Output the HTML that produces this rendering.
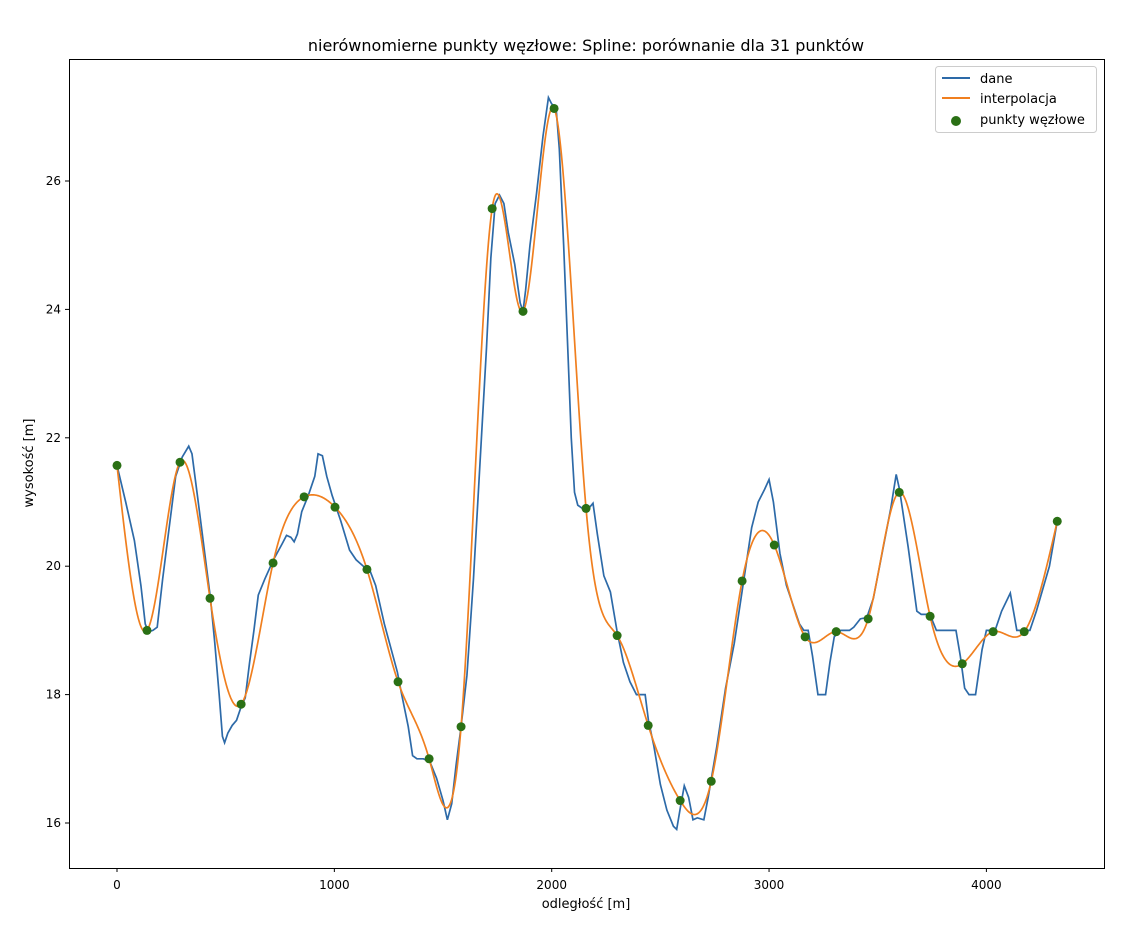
<!DOCTYPE html>
<html><head><meta charset="utf-8"><style>
body{margin:0;background:#fff;}
svg text{font-family:"DejaVu Sans","Liberation Sans",sans-serif;}
</style></head><body>
<svg id="chart" width="1139" height="941" xmlns="http://www.w3.org/2000/svg">
<rect width="1139" height="941" fill="#fff"/>
<text x="586" y="51" font-size="16" text-anchor="middle">nierównomierne punkty węzłowe: Spline: porównanie dla 31 punktów</text>
<g id="plot"></g>
<rect x="69.5" y="59.5" width="1035" height="809" fill="none" stroke="#000" stroke-width="1"/>
<text x="586" y="908" font-size="13" text-anchor="middle">odległość [m]</text>
<text transform="translate(33,463) rotate(-90)" font-size="13" text-anchor="middle">wysokość [m]</text>
<g>
<rect x="935.5" y="66.5" width="161" height="66" rx="3" fill="#fff" fill-opacity="0.8" stroke="#ccc"/>
<line x1="942" y1="78" x2="970" y2="78" stroke="#2d6aa8" stroke-width="2"/>
<text x="980" y="83" font-size="13">dane</text>
<line x1="942" y1="98" x2="970" y2="98" stroke="#f07f1f" stroke-width="2"/>
<text x="980" y="103" font-size="13">interpolacja</text>
<circle cx="956" cy="121" r="5" fill="#2a7015"/>
<text x="980" y="124" font-size="13">punkty węzłowe</text>
</g>
</svg>
<script>
const nodeX=[0,138,290,428,571,718,861,1003,1150,1293,1436,1583,1726,1868,2011,2158,2301,2444,2591,2734,2876,3024,3166,3309,3456,3599,3741,3889,4031,4174,4326];
const nodeY=[21.57,19.0,21.62,19.5,17.85,20.05,21.08,20.92,19.95,18.2,17.0,17.5,25.57,23.97,27.13,20.9,18.92,17.52,16.35,16.65,19.77,20.33,18.9,18.98,19.18,21.15,19.22,18.48,18.98,18.98,20.7];
const dataX=[0,40,80,110,130,145,165,185,210,240,270,300,330,345,370,400,430,450,470,485,495,510,530,550,570,590,610,630,650,680,720,760,780,800,815,830,850,880,910,925,945,965,990,1030,1070,1100,1140,1165,1190,1230,1270,1290,1310,1340,1360,1380,1410,1440,1470,1500,1520,1540,1560,1583,1610,1640,1670,1700,1720,1740,1760,1780,1800,1830,1855,1868,1880,1900,1930,1960,1985,2000,2020,2035,2055,2075,2090,2105,2120,2150,2170,2190,2210,2240,2270,2300,2330,2360,2390,2430,2445,2470,2500,2530,2560,2575,2595,2610,2630,2650,2670,2700,2720,2760,2800,2840,2880,2920,2950,2980,3000,3020,3050,3080,3110,3140,3160,3180,3200,3225,3260,3280,3300,3330,3370,3390,3420,3450,3480,3520,3560,3585,3600,3640,3680,3700,3740,3770,3810,3860,3880,3900,3920,3950,3980,4000,4040,4070,4110,4140,4170,4200,4230,4290,4326];
const dataY=[21.57,21.0,20.4,19.7,19.1,18.98,19.0,19.05,19.8,20.6,21.4,21.7,21.87,21.75,21.1,20.3,19.5,18.8,18.0,17.35,17.25,17.4,17.52,17.6,17.8,17.95,18.5,19.0,19.55,19.8,20.1,20.35,20.48,20.45,20.38,20.5,20.85,21.1,21.4,21.75,21.72,21.4,21.1,20.7,20.25,20.1,19.98,19.92,19.7,19.1,18.6,18.35,18.0,17.5,17.05,17.0,17.0,16.95,16.7,16.35,16.05,16.3,16.9,17.5,18.3,19.8,21.6,23.4,24.8,25.65,25.78,25.65,25.2,24.7,24.1,23.97,24.3,25.0,25.8,26.7,27.3,27.2,27.15,26.5,25.0,23.3,22.0,21.15,20.95,20.88,20.9,20.98,20.5,19.85,19.6,19.0,18.5,18.2,18.0,18.0,17.6,17.2,16.6,16.2,15.95,15.9,16.3,16.58,16.4,16.05,16.08,16.05,16.4,17.2,18.1,18.8,19.7,20.6,21.0,21.2,21.35,21.0,20.2,19.7,19.4,19.1,19.0,19.0,18.6,18.0,18.0,18.5,18.9,19.0,19.0,19.05,19.18,19.2,19.5,20.2,20.9,21.43,21.2,20.3,19.3,19.25,19.25,19.0,19.0,19.0,18.6,18.1,18.0,18.0,18.7,19.0,19.0,19.3,19.58,19.0,19.0,19.0,19.3,20.0,20.7];
const xTicks=[0,1000,2000,3000,4000];
const yTicks=[16,18,20,22,24,26];
const NS="http://www.w3.org/2000/svg";
const sx=v=>117+v*0.21735;
const sy=v=>823-(v-16)*64.2;
const g=document.getElementById('plot');
function mk(t,a){const e=document.createElementNS(NS,t);for(const k in a)e.setAttribute(k,a[k]);g.appendChild(e);return e;}
xTicks.forEach(t=>{
 const l=mk('line',{x1:sx(t),x2:sx(t),y1:868,y2:872,stroke:'#000'});
 
 
 const tx=mk('text',{x:sx(t),y:889,'font-size':12,'text-anchor':'middle'});tx.textContent=t;
 
 
});
yTicks.forEach(t=>{
 const l=mk('line',{x1:65,x2:69,y1:sy(t),y2:sy(t),stroke:'#000'});
 
 
 const tx=mk('text',{x:61,y:sy(t)+4,'font-size':12,'text-anchor':'end'});tx.textContent=t;
 
 
});
// data line
const dl=mk('polyline',{points:dataX.map((x,i)=>sx(x)+','+sy(dataY[i])).join(' '),fill:'none',stroke:'#2d6aa8','stroke-width':1.7});


// natural cubic spline
function spline(xs,ys){const n=xs.length-1,h=[],a=[],l=[1],mu=[0],z=[0],c=new Array(n+1).fill(0),b=[],d=[];
 for(let i=0;i<n;i++)h[i]=xs[i+1]-xs[i];
 for(let i=1;i<n;i++)a[i]=3/h[i]*(ys[i+1]-ys[i])-3/h[i-1]*(ys[i]-ys[i-1]);
 for(let i=1;i<n;i++){l[i]=2*(xs[i+1]-xs[i-1])-h[i-1]*mu[i-1];mu[i]=h[i]/l[i];z[i]=(a[i]-h[i-1]*z[i-1])/l[i];}
 for(let j=n-1;j>=0;j--){c[j]=(j<n&&j>0?z[j]-mu[j]*c[j+1]:0);b[j]=(ys[j+1]-ys[j])/h[j]-h[j]*(c[j+1]+2*c[j])/3;d[j]=(c[j+1]-c[j])/(3*h[j]);}
 return x=>{let j=0;while(j<n-1&&x>xs[j+1])j++;const t=x-xs[j];return ys[j]+b[j]*t+c[j]*t*t+d[j]*t*t*t;};}
const f=spline(nodeX,nodeY);const pts=[];
const x0=nodeX[0],x1=nodeX[nodeX.length-1];
for(let i=0;i<=1200;i++){const x=x0+(x1-x0)*i/1200;pts.push(sx(x)+','+sy(f(x)));}
const il=mk('polyline',{points:pts.join(' '),fill:'none',stroke:'#f07f1f','stroke-width':1.7});


nodeX.forEach((x,i)=>{const c=mk('circle',{cx:sx(x),cy:sy(nodeY[i]),r:4.5,fill:'#2a7015'});
 
 });
</script>
</body></html>
